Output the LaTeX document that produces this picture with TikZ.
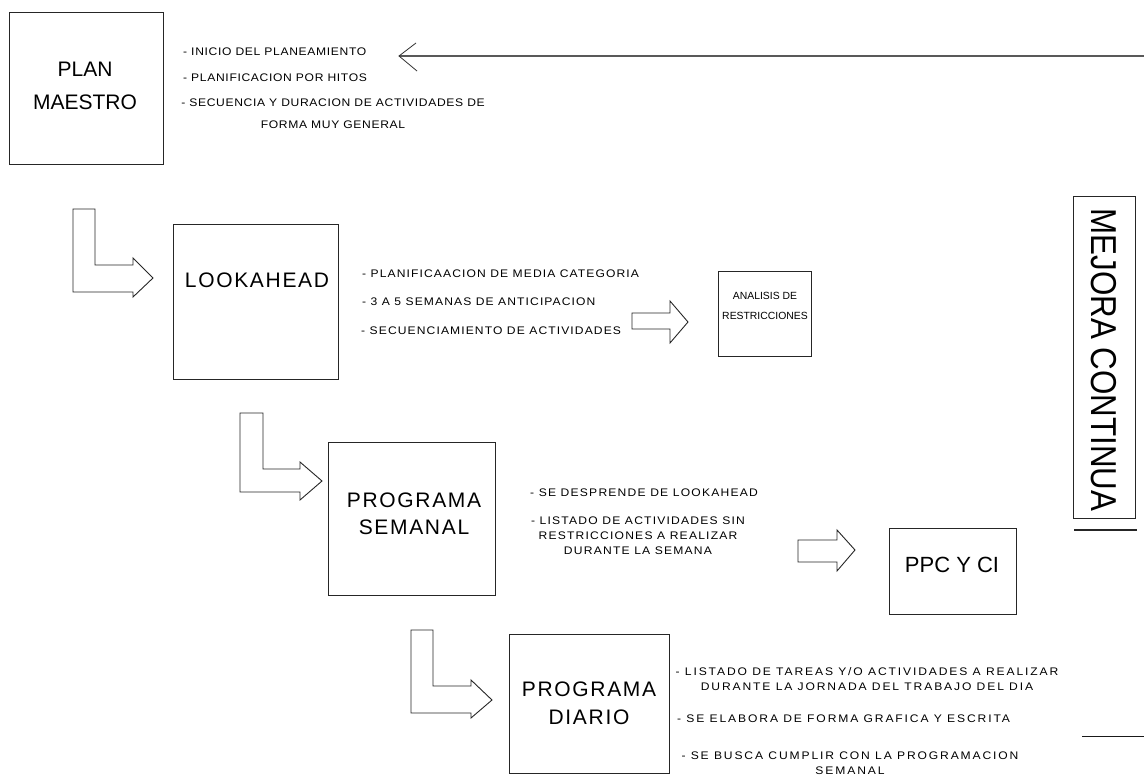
\documentclass[tikz,border=0pt]{standalone}
\usepackage{fontspec}
\usepackage{graphicx}
\setmainfont{Liberation Sans}
\newfontfamily\fA[LetterSpace=6,FakeStretch=1.1]{Liberation Sans}
\newfontfamily\fB[LetterSpace=10,FakeStretch=1.1]{Liberation Sans}
\newfontfamily\fC[LetterSpace=11,FakeStretch=1.1]{Liberation Sans}
\newfontfamily\fD[LetterSpace=17,FakeStretch=1.1]{Liberation Sans}
\newfontfamily\fBig[LetterSpace=8]{Liberation Sans}
\newfontfamily\fPlain{Liberation Sans}
\tikzset{
  box/.style={draw=black!85, line width=0.9pt, inner sep=0pt, anchor=north west},
  barrow/.style={draw=black!85, line width=0.9pt, fill=white, line join=miter},
  smallA/.style={font=\fA\fontsize{11}{22}\selectfont, inner sep=0pt, align=center},
  smallB/.style={font=\fB\fontsize{11}{15}\selectfont, inner sep=0pt, align=center},
  smallC/.style={font=\fC\fontsize{11}{15}\selectfont, inner sep=0pt, align=center},
  smallD/.style={font=\fD\fontsize{11}{15}\selectfont, inner sep=0pt, align=center},
  one/.style={text height=7.9pt, text depth=0pt},
  bigtxt/.style={font=\fBig\fontsize{21}{27}\selectfont, inner sep=0pt, align=center},
}
\begin{document}
\begin{tikzpicture}[x=1pt,y=-1pt]
\useasboundingbox[fill=white] (0,0) rectangle (1144,776);

% boxes
\node[box, minimum width=154, minimum height=152] (pm) at (9,12) {};
\node[box, minimum width=165, minimum height=155] (la) at (173,224) {};
\node[box, minimum width=93, minimum height=85] (an) at (718,271) {};
\node[box, minimum width=167, minimum height=153] (ps) at (328,442) {};
\node[box, minimum width=127, minimum height=86] (ppc) at (889,528) {};
\node[box, minimum width=160, minimum height=139] (pd) at (509,634) {};
\node[box, minimum width=62, minimum height=322] (mc) at (1073,196) {};

% box labels
\node[bigtxt, anchor=north, font=\fPlain\fontsize{21}{33}\selectfont] (pmT) at (85,61.5) {PLAN\\MAESTRO};
\node[bigtxt, text height=15pt, text depth=0pt] (laT) at (257,280) {LOOKAHEAD};
\node[bigtxt, anchor=north] (psT) at (414,492.5) {PROGRAMA\\SEMANAL};
\node[bigtxt, anchor=north, font=\fBig\fontsize{21}{28}\selectfont] (pdT) at (589,681.5) {PROGRAMA\\DIARIO};
\node[bigtxt, font=\fPlain\fontsize{22}{27}\selectfont, text height=15.8pt, text depth=0pt] (ppcT) at (952,565) {PPC Y CI};
\node[inner sep=0pt, anchor=north, align=center, font=\fPlain\fontsize{10.4}{20}\selectfont] (anT) at (765,292.4) {ANALISIS DE\\RESTRICCIONES};
\node[inner sep=0pt, rotate=-90, font=\fPlain\fontsize{36}{40}\selectfont, text height=25.8pt, text depth=0pt] (mcT) at (1104,360) {\scalebox{0.87}[1]{MEJORA CONTINUA}};

% block 1 text
\node[smallA, one, anchor=west] (t1a) at (183,52) {- INICIO DEL PLANEAMIENTO};
\node[smallA, one, anchor=west] (t1b) at (183,78) {- PLANIFICACION POR HITOS};
\node[smallA, anchor=north] (t1c) at (333,99) {- SECUENCIA Y DURACION DE ACTIVIDADES DE\\FORMA MUY GENERAL};

% block 2 text
\node[smallB, one, anchor=west] (t2a) at (362,274) {- PLANIFICAACION DE MEDIA CATEGORIA};
\node[smallB, one, anchor=west] (t2b) at (362,302) {- 3 A 5 SEMANAS DE ANTICIPACION};
\node[smallB, one, anchor=west] (t2c) at (361,331) {- SECUENCIAMIENTO DE ACTIVIDADES};

% block 3 text
\node[smallC, one, anchor=west] (t3a) at (530,493) {- SE DESPRENDE DE LOOKAHEAD};
\node[smallC, anchor=north] (t3b) at (638,517) {- LISTADO DE ACTIVIDADES SIN\\RESTRICCIONES A REALIZAR\\DURANTE LA SEMANA};

% block 4 text
\node[smallD, anchor=north] (t4a) at (867,667) {- LISTADO DE TAREAS Y/O ACTIVIDADES A REALIZAR\\DURANTE LA JORNADA DEL TRABAJO DEL DIA};
\node[smallD, one, anchor=west] (t4b) at (677,719) {- SE ELABORA DE FORMA GRAFICA Y ESCRITA};
\node[smallD, anchor=north] (t4c) at (850,752) {- SE BUSCA CUMPLIR CON LA PROGRAMACION\\SEMANAL};

% bent block arrows
\draw[barrow] (73,209) -- (95,209) -- (95,265) -- (133,265) -- (133,258) -- (153,278) -- (133,297) -- (133,292) -- (73,292) -- cycle;
\draw[barrow] (240,413) -- (263,413) -- (263,469) -- (300,469) -- (300,462) -- (322,481) -- (300,500) -- (300,492) -- (240,492) -- cycle;
\draw[barrow] (411,630) -- (433,630) -- (433,686) -- (471,686) -- (471,680) -- (492,700) -- (471,718) -- (471,713) -- (411,713) -- cycle;

% straight block arrows
\draw[barrow] (632,313) -- (670,313) -- (670,301) -- (688,322) -- (670,343) -- (670,329) -- (632,329) -- cycle;
\draw[barrow] (798,540) -- (837,540) -- (837,530) -- (855,550) -- (837,571) -- (837,562) -- (798,562) -- cycle;

% feedback arrow at top
\coordinate (fbR) at (1144,56);
\coordinate (fbTip) at (399,56);
\draw[line width=2pt, draw=black!65] (fbR) -- (fbTip);
\draw[line width=0.8pt, draw=black!80] (416,43) -- (fbTip) -- (417,71);

% loose lines on the right
\coordinate (l1a) at (1074,530);
\coordinate (l1b) at (1137,530);
\draw[line width=1.8pt, draw=black!85] (l1a) -- (l1b);
\coordinate (l2a) at (1082,736);
\coordinate (l2b) at (1144,736);
\draw[line width=1pt, draw=black!90] (l2a) -- (l2b);
\end{tikzpicture}
\end{document}
